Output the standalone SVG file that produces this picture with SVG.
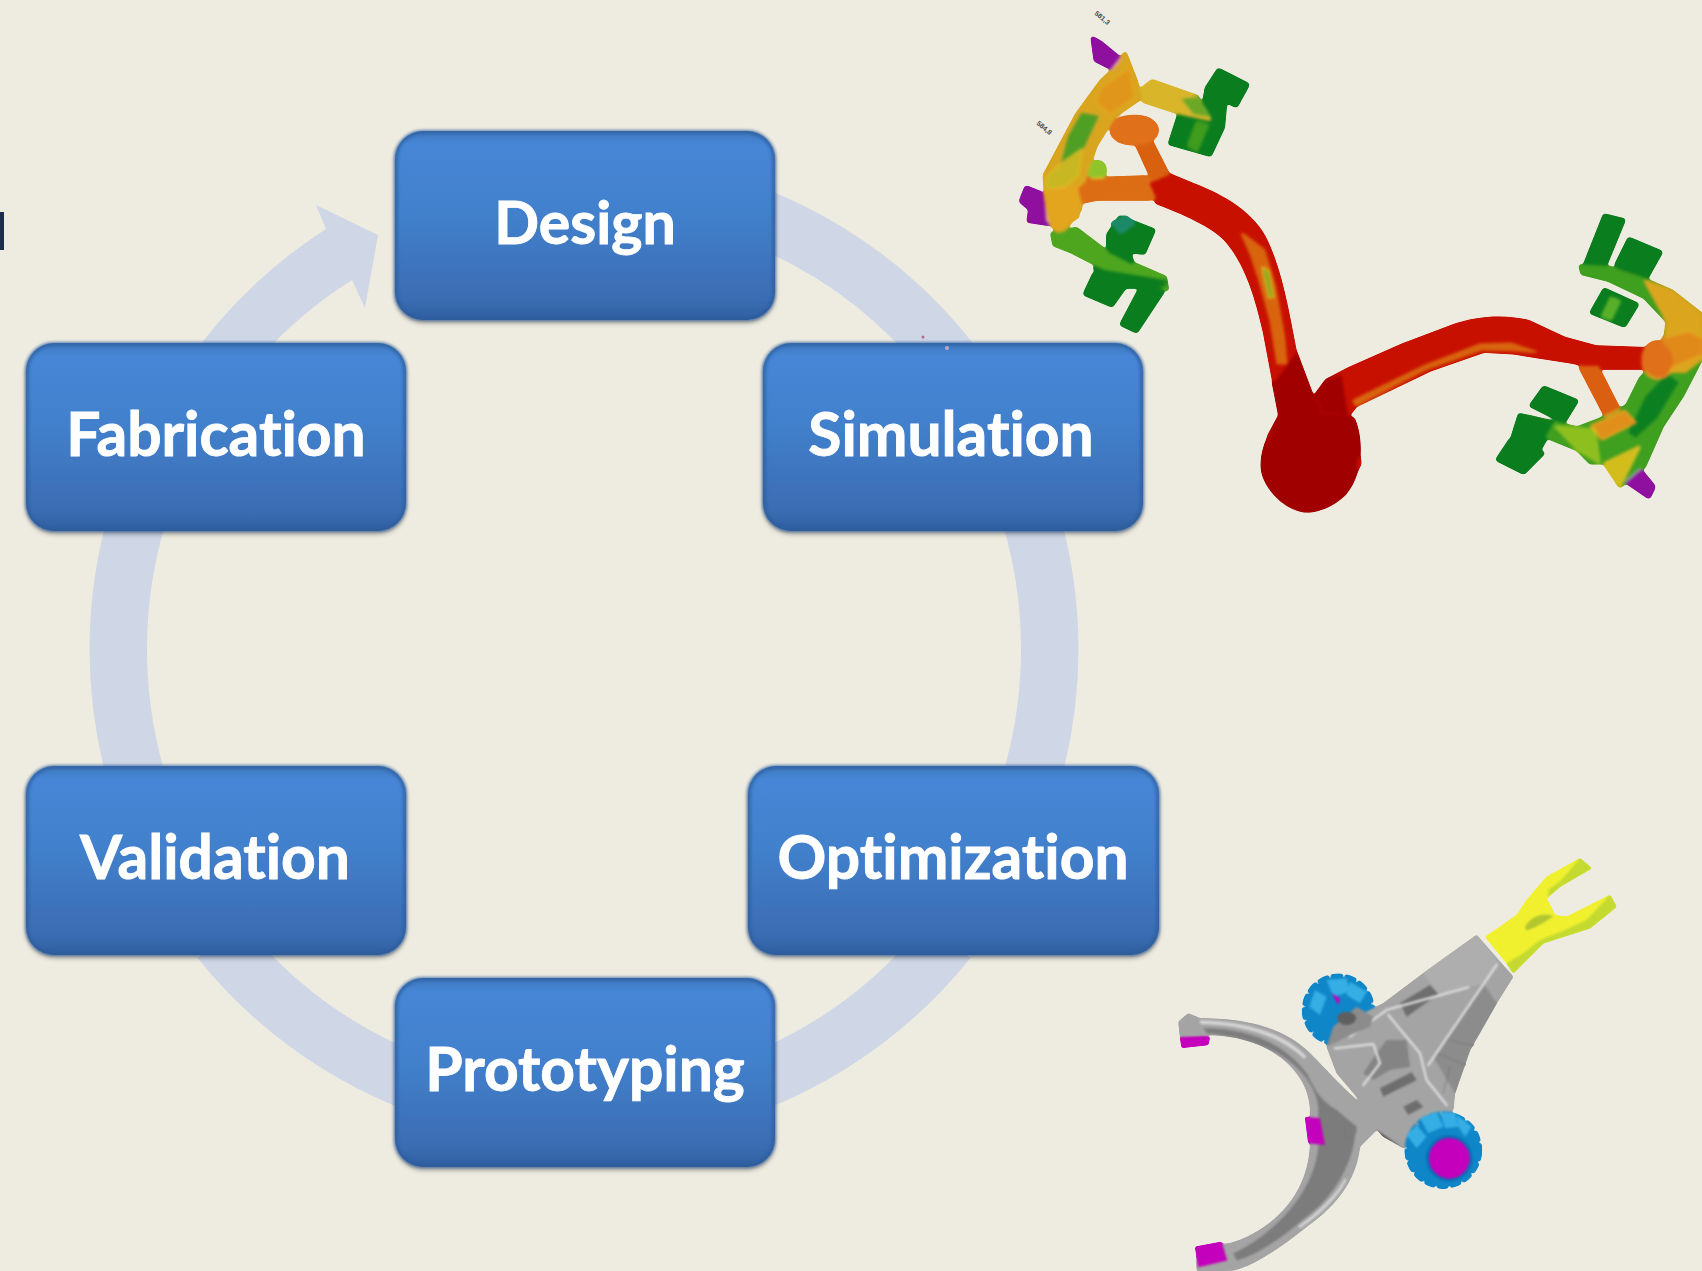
<svg xmlns="http://www.w3.org/2000/svg" width="1702" height="1271" viewBox="0 0 1702 1271">
<style>
.ring{fill:none;stroke:#cfd7e6;stroke-width:57.5}
.box{fill:url(#nodeFill);filter:url(#nodeShadow)}
.bevel{fill:none;stroke:#2c5c9c;stroke-width:4;opacity:.7;filter:url(#soft2)}
.lbl{font-family:Lato,"Liberation Sans",sans-serif;font-weight:700;font-size:60.5px;fill:#fff;stroke:#fff;stroke-width:.9;text-anchor:middle;font-variant-ligatures:none}
.g1{fill:#0a7d1e}.g2{fill:#3f9c1c}.r1{fill:#c81000}.r2{fill:#a00000}.pu{fill:#8f0f9e}
.mg{fill:#c400bc}.bl{fill:#0f86c8}.bl2{fill:#35aee6}.gr{fill:#a4a4a4}.grd{fill:#6e6e6e}
.tiny{font-family:"Liberation Sans",sans-serif;font-size:7px;font-weight:700;fill:#444}
.rib{fill:none;stroke:#dcdcdc;stroke-width:7;stroke-linecap:round;stroke-linejoin:round}
</style>
<defs>
<linearGradient id="nodeFill" x1="0" y1="0" x2="0" y2="1">
<stop offset="0" stop-color="#3f78bd"/><stop offset=".07" stop-color="#4686d6"/><stop offset=".45" stop-color="#4280cc"/><stop offset=".9" stop-color="#3a6cb2"/><stop offset="1" stop-color="#305f9f"/>
</linearGradient>
<filter id="nodeShadow" x="-5%" y="-5%" width="110%" height="115%"><feDropShadow dx="0" dy="3" stdDeviation="2.5" flood-color="#000" flood-opacity=".35"/></filter>
<filter id="soft2" x="-5%" y="-5%" width="110%" height="110%"><feGaussianBlur stdDeviation="1.5"/></filter>
<filter id="goo" x="-3%" y="-3%" width="106%" height="106%" color-interpolation-filters="sRGB"><feMorphology operator="dilate" radius="1"/><feGaussianBlur stdDeviation="1.7"/><feComponentTransfer><feFuncA type="linear" slope="5" intercept="-1.6"/></feComponentTransfer></filter>
<filter id="goo2" x="-3%" y="-3%" width="106%" height="106%" color-interpolation-filters="sRGB"><feGaussianBlur stdDeviation="1"/><feComponentTransfer><feFuncA type="linear" slope="4" intercept="-1.2"/></feComponentTransfer></filter>
</defs>
<rect width="1702" height="1271" fill="#eeece1"/>
<rect x="0" y="212" width="4" height="38" fill="#1f2d4d"/>

<g id="connectors">
<path class="ring" d="M760 217.500A466 466 0 0 1 949.600 360"/>
<path class="ring" d="M1030 515A466 466 0 0 1 1031 780"/>
<path class="ring" d="M948 940A466 466 0 0 1 760 1080.500"/>
<path class="ring" d="M410 1081A466 466 0 0 1 220 940"/>
<path class="ring" d="M137 780A466 466 0 0 1 138 515"/>
<path d="M189 360A495 495 0 0 1 326 229L316 205L378 235L365 308L352 280A437.500 437.500 0 0 0 258 360Z" fill="#cfd7e6"/>
</g>

<g id="node-design"><rect class="box" x="395" y="131" width="380" height="189" rx="28"/><rect class="bevel" x="396" y="132" width="378" height="187" rx="27"/><text class="lbl" x="585" y="244" style="font-size:59px">Design</text></g>
<g id="node-simulation"><rect class="box" x="763" y="343" width="380" height="188" rx="28"/><rect class="bevel" x="764" y="344" width="378" height="186" rx="27"/><text class="lbl" x="951" y="456">Simulation</text></g>
<g id="node-optimization"><rect class="box" x="748" y="766" width="411" height="189" rx="28"/><rect class="bevel" x="749" y="767" width="409" height="187" rx="27"/><text class="lbl" x="953" y="879">Optimization</text></g>
<g id="node-prototyping"><rect class="box" x="395" y="978" width="380" height="189" rx="28"/><rect class="bevel" x="396" y="979" width="378" height="187" rx="27"/><text class="lbl" x="585" y="1091">Prototyping</text></g>
<g id="node-validation"><rect class="box" x="26" y="766" width="380" height="189" rx="28"/><rect class="bevel" x="27" y="767" width="378" height="187" rx="27"/><text class="lbl" x="215" y="879">Validation</text></g>
<g id="node-fabrication"><rect class="box" x="26" y="343" width="380" height="188" rx="28"/><rect class="bevel" x="27" y="344" width="378" height="186" rx="27"/><text class="lbl" x="216" y="456">Fabrication</text></g>
<circle cx="923" cy="337" r="1.500" fill="#b06a80"/><circle cx="947" cy="348" r="2" fill="#b8a8c8"/>

<g id="simulation-part" filter="url(#goo)"><g transform="translate(1000,0) scale(.4476,.3381)">
<path class="pu" d="M205 110L225 125L280 185L272 218L212 178Z"/>
<path class="pu" d="M45 595L58 552L92 570L110 665L62 655L66 618Z"/>
<path class="g1" d="M460 262L488 205L555 250L528 315L505 300L500 375L470 460L378 425L400 335L450 340Z"/>
<path class="g2" d="M420 430L440 360L465 370L440 445Z"/>
<path d="M315 265L340 238L440 285L470 355L400 335L320 300Z" fill="#d9b52a"/>
<path d="M400 290L440 285L470 350L430 340Z" fill="#6ca826"/>
<path d="M280 155L305 240L315 290L255 345L215 430L190 530L180 620L135 695L105 650L98 520L130 440L170 340L225 240L245 215Z" fill="#d9a51f"/>
<path d="M225 260L290 200L300 290L245 340L215 300Z" fill="#e0961a"/>
<path d="M180 330L225 340L190 440L130 500L150 400Z" fill="#4f9f24"/>
<path d="M130 490L185 440L175 520L110 590L100 530Z" fill="#c8b722"/>
<path d="M103 560L175 550L175 640L125 680L108 640Z" fill="#e3a41e"/>
<path d="M115 690L170 675L240 745L370 820L375 858L240 800L160 745L120 725Z" fill="#4ea61f"/>
<path class="g1" d="M240 695L268 640L345 680L322 750L290 745L300 790L240 750Z"/>
<path d="M250 660L280 640L300 660L270 690Z" fill="#1c8a68"/>
<path class="g1" d="M188 870L210 808L282 845L250 905Z"/>
<path class="g1" d="M270 960L322 830L366 860L305 982Z"/>
<path class="g1" d="M210 790L370 825L372 850L270 850L220 820Z"/>
<ellipse cx="218" cy="505" rx="18" ry="28" fill="#8fc52a"/>
<path d="M295 400L330 395L378 520L345 545Z" fill="#d9600f"/>
<ellipse cx="300" cy="385" rx="52" ry="42" fill="#e0701a"/>
<path d="M195 528L325 522L390 580L330 590L215 590L180 600L172 555Z" fill="#dd6d14"/>
<path class="r1" d="M375 515L430 545C500 580 560 630 590 700C625 790 640 900 660 1040L700 1180L790 1240L805 1370L770 1460L690 1512L630 1480L585 1380L600 1290L625 1230L610 1120L590 980C570 860 545 770 505 710C480 675 430 640 350 600L330 540Z"/>
<path d="M540 690L590 740L615 850L635 1000L640 1075L620 1075L605 950L580 830L560 750Z" fill="#d8640e"/>
<path d="M585 790L600 800L612 880L600 880Z" fill="#7daa1e"/>
<path class="r2" d="M610 1130L660 1040L700 1180L790 1240C810 1300 810 1400 770 1460C740 1500 700 1515 680 1512C630 1500 585 1430 585 1375C585 1320 610 1270 625 1230Z"/>
<path class="r1" d="M705 1170L730 1125L780 1090L900 1020L1020 960C1080 935 1130 935 1180 950L1260 1000L1330 1025L1440 1030L1450 1090L1340 1090L1280 1072L1150 1045L1080 1040L960 1095L795 1200L780 1225L720 1222Z"/>
<path class="r2" d="M705 1170L730 1125L765 1105L780 1225L720 1222Z"/>
<path d="M790 1185L950 1082L1075 1018L1140 1016L1200 1042L1150 1036L1075 1034L950 1092L795 1198Z" fill="#d8640e"/>
<path d="M1295 1085L1335 1085L1395 1240L1360 1250Z" fill="#db5f10"/>
<path class="g1" d="M1350 635L1395 650L1350 795L1305 785Z"/>
<path class="g1" d="M1375 785L1405 705L1478 745L1440 835Z"/>
<path class="g1" d="M1320 925L1350 855L1425 900L1395 965Z"/>
<path d="M1365 880L1385 890L1365 945L1345 935Z" fill="#58b02a"/>
<path d="M1295 785L1360 790L1440 825L1500 860L1568 930L1568 1060L1525 1170L1480 1260L1440 1380L1385 1440L1355 1370L1320 1370L1290 1330L1170 1265L1175 1230L1290 1265L1340 1240L1400 1200L1430 1120L1480 1050L1490 950L1440 880L1360 830L1300 810Z" fill="#3f9f1f"/>
<path d="M1440 830L1500 860L1568 930L1568 1060L1530 1100L1480 1100L1490 950Z" fill="#dba51e"/>
<path d="M1480 1000L1540 980L1568 1000L1568 1050L1500 1090Z" fill="#e08a1a"/>
<path d="M1350 1370L1430 1320L1385 1440Z" fill="#d2bd1c"/>
<path d="M1440 1170L1490 1100L1520 1130L1470 1240L1420 1300L1400 1280Z" fill="#0c8020"/>
<path class="g1" d="M1185 1200L1215 1145L1290 1185L1260 1250Z"/>
<path class="g1" d="M1110 1360L1140 1300L1215 1340L1170 1400Z"/>
<path class="g1" d="M1160 1225L1240 1250L1200 1345L1140 1310Z"/>
<path d="M1240 1260L1330 1270L1340 1370L1290 1330Z" fill="#8dbf1f"/>
<ellipse cx="1470" cy="1065" rx="35" ry="55" fill="#e0701a"/>
<path d="M1320 1260L1395 1215L1420 1250L1345 1300Z" fill="#df8f1a"/>
<path class="pu" d="M1398 1425L1430 1388L1462 1440L1450 1472Z"/>
</g></g>
<text class="tiny" transform="translate(1094,14) rotate(40)">581,3</text>
<text class="tiny" transform="translate(1036,124) rotate(40)">584,8</text>

<g id="fork-part" filter="url(#goo2)"><g transform="translate(1150,840) scale(.3333)">
<circle cx="565" cy="510" r="96" class="bl"/>
<circle cx="565" cy="510" r="98" fill="none" stroke="#0f86c8" stroke-width="22" stroke-dasharray="34 6"/>
<path class="bl2" d="M478 500L495 450L530 470L510 525ZM530 420L590 415L600 455L550 470ZM600 425L650 455L630 490L590 465Z"/>
<path class="mg" d="M545 460L570 475L565 495Z"/>
<path class="gr" d="M85 545L115 520L150 535C280 535 400 560 480 640C530 690 590 760 680 830L680 870L630 920C620 1010 570 1090 470 1160C400 1215 320 1275 250 1292L140 1293L140 1220L240 1210C340 1180 470 1090 480 920L480 800C470 690 360 590 180 585L90 590Z"/>
<path d="M160 565C300 565 400 610 470 700C495 750 510 780 560 810L620 860L610 920C590 1000 540 1080 470 1130C400 1190 330 1240 260 1262L250 1240C340 1200 490 1080 505 920L505 800C490 690 360 590 170 580Z" fill="#7c7c7c"/>
<path d="M150 541C280 545 400 575 470 650L462 656C390 590 290 555 150 552ZM590 1020C560 1080 500 1130 450 1165L445 1158C500 1120 555 1070 585 1015Z" fill="#d6d6d6"/>
<circle cx="600" cy="872" r="18" fill="none" stroke="#777" stroke-width="3"/>
<path class="gr" d="M980 285L1090 410L1040 490L960 630L915 760L910 810L760 925L680 870L620 770L560 700L530 620L560 560L700 490L820 400Z"/>
<path d="M820 400L980 285L1050 370L1000 430L960 440L870 470Z" fill="#aeaeae"/>
<path d="M960 630L1040 490L1000 430L850 650L915 760Z" fill="#8c8c8c"/>
<path d="M860 640L960 680M890 600L985 620M900 680L880 760" fill="none" stroke="#6f6f6f" stroke-width="2"/>
<path class="grd" d="M750 490L840 435L865 462L770 530Z"/>
<path class="grd" d="M690 745L785 697L800 720L700 770Z"/>
<path class="grd" d="M760 800L800 780L820 800L775 825Z"/>
<path d="M710 600L770 600L780 680L720 690L670 720L640 700L680 640Z" fill="#848484"/>
<path class="rib" d="M600 590L710 510L955 442M835 675L1040 375M715 525L810 640L830 720L890 795M555 625L670 612L690 670L640 735"/>
<path d="M530 620L550 560L620 500L670 530L660 560L590 590Z" fill="#8c8c8c"/>
<ellipse cx="590" cy="535" rx="28" ry="20" fill="#5f5f5f"/>
<path d="M680 870L760 925L700 890Z" fill="#555"/>
<path d="M1005 290L1050 260L1100 225L1130 180L1190 110L1290 55L1325 85L1230 140L1190 175L1215 225L1250 230L1380 165L1400 200L1320 265L1240 290L1180 310L1090 400L1070 370Z" fill="#f0f02e"/>
<path d="M1290 55L1325 85L1230 140L1195 170L1195 150L1235 120ZM1380 165L1400 200L1320 265L1240 290L1180 310L1090 400L1070 370L1120 340L1170 300L1240 272L1310 240Z" fill="#c4da30"/>
<path d="M1125 260C1140 235 1170 215 1210 228C1190 245 1150 265 1130 272Z" fill="#b2c630"/>
<path class="mg" d="M90 592L180 590L175 615L95 624Z"/>
<path class="mg" d="M465 830L510 835L525 915L475 910Z"/>
<path class="mg" d="M135 1220L215 1205L232 1262L145 1282Z"/>
<circle cx="880" cy="930" r="106" class="bl"/>
<circle cx="880" cy="930" r="106" fill="none" stroke="#0f86c8" stroke-width="20" stroke-dasharray="32 6"/>
<path class="bl2" d="M770 885L800 855L830 890L800 925ZM810 835L860 815L880 860L835 880ZM870 815L915 820L925 860L885 865ZM920 825L965 860L945 890L925 860Z"/>
<circle cx="898" cy="955" r="70" fill="#0a6fb5"/>
<circle cx="898" cy="955" r="61" class="mg"/>
</g></g>
</svg>
